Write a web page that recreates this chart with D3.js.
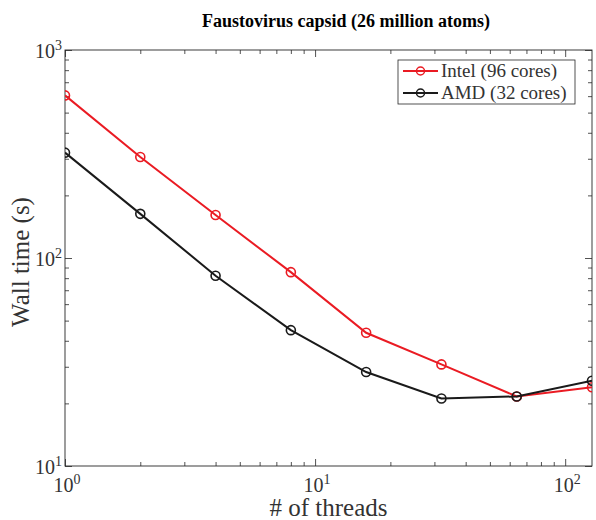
<!DOCTYPE html>
<html><head><meta charset="utf-8">
<script src="https://cdn.jsdelivr.net/npm/d3@7"></script>
<style>body{margin:0;background:#fff} svg{display:block}</style>
</head><body><svg id="c" width="596" height="520"></svg>
<script>
const threads = [1, 2, 4, 8, 16, 32, 64, 128];
const intelTime = [605, 306, 161, 85.5, 43.7, 30.8, 21.6, 23.9];
const amdTime = [321, 163, 82.2, 45, 28.3, 21.1, 21.6, 25.7];
const seriesNames = ["Intel (96 cores)", "AMD (32 cores)"];
const xMajorTicks = [1, 10, 100];
const yMajorTicks = [10, 100, 1000];
const xTickExps = ["0", "1", "2"];
const yTickExps = ["1", "2", "3"];
const titleText = "Faustovirus capsid (26 million atoms)";
const xLabel = "# of threads";
const yLabel = "Wall time (s)";

const W = 596, H = 520;
const m = {left: 65, right: 4, top: 50, bottom: 54};
const FONT = "'Liberation Serif','Times New Roman',serif";
const TXT = "#333";
const AX = "#262626";
const svg = d3.select("#c");

const x = d3.scaleLog().domain([1, 128]).range([m.left, W - m.right]);
const y = d3.scaleLog().domain([10, 1000]).range([H - m.bottom, m.top]);

function minors(lo, hi) {
  const out = [];
  for (let d = lo; d < hi; d *= 10) for (let k = 2; k <= 9; k++) { const v = k * d; if (v < hi) out.push(v); }
  return out;
}
const xMinor = minors(1, 128);
const yMinor = minors(10, 1000);

function styleAxis(g) {
  g.select(".domain").remove();
  g.selectAll("line").attr("stroke", AX).attr("stroke-width", 0.8);
  g.selectAll("text").remove();
}
const bottomY = H - m.bottom, topY = m.top, leftX = m.left, rightX = W - m.right;
svg.append("g").attr("transform", `translate(0,${bottomY})`).call(d3.axisBottom(x).tickValues(xMajorTicks).tickSize(-7).tickFormat("")).call(styleAxis);
svg.append("g").attr("transform", `translate(0,${bottomY})`).call(d3.axisBottom(x).tickValues(xMinor).tickSize(-4).tickFormat("")).call(styleAxis);
svg.append("g").attr("transform", `translate(0,${topY})`).call(d3.axisTop(x).tickValues(xMajorTicks).tickSize(-7).tickFormat("")).call(styleAxis);
svg.append("g").attr("transform", `translate(0,${topY})`).call(d3.axisTop(x).tickValues(xMinor).tickSize(-4).tickFormat("")).call(styleAxis);
svg.append("g").attr("transform", `translate(${leftX},0)`).call(d3.axisLeft(y).tickValues(yMajorTicks).tickSize(-7).tickFormat("")).call(styleAxis);
svg.append("g").attr("transform", `translate(${leftX},0)`).call(d3.axisLeft(y).tickValues(yMinor).tickSize(-4).tickFormat("")).call(styleAxis);
svg.append("g").attr("transform", `translate(${rightX},0)`).call(d3.axisRight(y).tickValues(yMajorTicks).tickSize(-7).tickFormat("")).call(styleAxis);
svg.append("g").attr("transform", `translate(${rightX},0)`).call(d3.axisRight(y).tickValues(yMinor).tickSize(-4).tickFormat("")).call(styleAxis);

svg.append("rect").attr("x", leftX).attr("y", topY).attr("width", rightX - leftX).attr("height", bottomY - topY)
  .attr("fill", "none").attr("stroke", AX).attr("stroke-width", 0.9);

function powLabel(sel, exp) {
  sel.append("tspan").text("10");
  sel.append("tspan").attr("dy", -8).attr("font-size", 14).text(exp);
}
xMajorTicks.forEach((v, i) => {
  const t = svg.append("text").attr("x", x(v) + 2).attr("y", bottomY + 26).attr("text-anchor", "middle")
    .attr("font-family", FONT).attr("font-size", 20).attr("fill", TXT);
  powLabel(t, xTickExps[i]);
});
yMajorTicks.forEach((v, i) => {
  const t = svg.append("text").attr("x", leftX - 3).attr("y", y(v) + 8).attr("text-anchor", "end")
    .attr("font-family", FONT).attr("font-size", 20).attr("fill", TXT);
  powLabel(t, yTickExps[i]);
});

svg.append("text").attr("x", (leftX + rightX) / 2).attr("y", 516).attr("text-anchor", "middle")
  .attr("font-family", FONT).attr("font-size", 25).attr("fill", TXT).text(xLabel);
svg.append("text").attr("transform", `translate(29,262) rotate(-90)`).attr("text-anchor", "middle")
  .attr("font-family", FONT).attr("font-size", 25).attr("fill", TXT).text(yLabel);
svg.append("text").attr("x", 346).attr("y", 27).attr("text-anchor", "middle")
  .attr("font-family", FONT).attr("font-size", 18).attr("font-weight", "bold").attr("fill", "#000").text(titleText);

const series = [
  {name: seriesNames[0], vals: intelTime, color: "#ea1b23"},
  {name: seriesNames[1], vals: amdTime, color: "#1a1a1a"}
];
const line = d3.line().x(d => x(d[0])).y(d => y(d[1]));
svg.append("clipPath").attr("id", "clip").append("rect")
  .attr("x", leftX).attr("y", topY).attr("width", rightX - leftX).attr("height", bottomY - topY);
const plot = svg.append("g").attr("clip-path", "url(#clip)");
series.forEach(s => {
  const pts = threads.map((t, i) => [t, s.vals[i]]);
  plot.append("path").attr("d", line(pts)).attr("fill", "none").attr("stroke", s.color).attr("stroke-width", 2);
  plot.selectAll(null).data(pts).enter().append("circle")
    .attr("cx", d => x(d[0])).attr("cy", d => y(d[1])).attr("r", 4.5)
    .attr("fill", "none").attr("stroke", s.color).attr("stroke-width", 1.6);
});

const lg = svg.append("g");
lg.append("rect").attr("x", 398).attr("y", 60).attr("width", 177).attr("height", 44)
  .attr("fill", "#fff").attr("stroke", AX).attr("stroke-width", 0.8);
series.forEach((s, i) => {
  const cy = 71 + i * 22;
  lg.append("line").attr("x1", 403).attr("x2", 438).attr("y1", cy).attr("y2", cy).attr("stroke", s.color).attr("stroke-width", 2);
  lg.append("circle").attr("cx", 420.5).attr("cy", cy).attr("r", 4).attr("fill", "none").attr("stroke", s.color).attr("stroke-width", 1.5);
  lg.append("text").attr("x", 441).attr("y", cy + 6).attr("font-family", FONT).attr("font-size", 19).attr("fill", TXT).text(s.name);
});
</script></body></html>
